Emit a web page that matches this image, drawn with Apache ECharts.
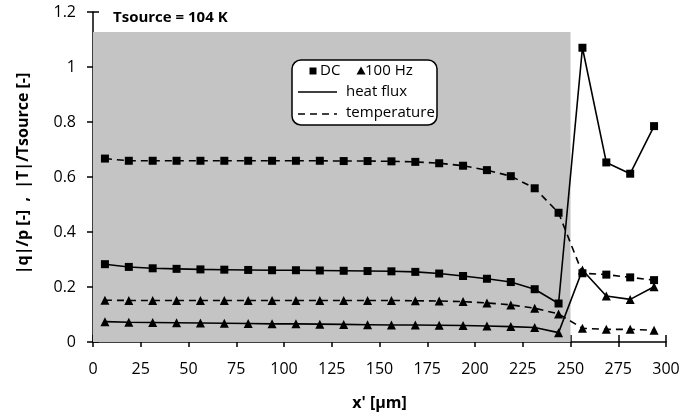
<!DOCTYPE html>
<html><head><meta charset="utf-8">
<script src="https://cdn.jsdelivr.net/npm/echarts@6/dist/echarts.min.js"></script>
<style>html,body{margin:0;padding:0;background:#fff}#c{width:698px;height:417px}</style>
</head><body><div id="c"></div>
<script>
const xPos = [6.25,18.75,31.25,43.75,56.25,68.75,81.25,93.75,106.25,118.75,131.25,143.75,156.25,168.75,181.25,193.75,206.25,218.75,231.25,243.75,256.25,268.75,281.25,293.75];
const dcTemp = [0.667,0.659,0.659,0.659,0.659,0.659,0.659,0.659,0.659,0.659,0.658,0.658,0.657,0.655,0.650,0.641,0.625,0.603,0.559,0.470,0.250,0.245,0.235,0.225];
const dcFlux = [0.283,0.273,0.268,0.266,0.264,0.263,0.262,0.261,0.261,0.260,0.259,0.258,0.257,0.255,0.249,0.240,0.230,0.218,0.192,0.140,1.070,0.653,0.612,0.785];
const hzTemp = [0.152,0.151,0.151,0.151,0.151,0.151,0.151,0.151,0.151,0.151,0.151,0.151,0.151,0.150,0.149,0.147,0.142,0.135,0.123,0.102,0.050,0.046,0.046,0.043];
const hzFlux = [0.074,0.072,0.071,0.070,0.069,0.068,0.067,0.066,0.066,0.065,0.064,0.063,0.062,0.062,0.061,0.060,0.058,0.056,0.053,0.034,0.262,0.167,0.155,0.201];
const shadeRegion = [[0, 0], [250, 1.127]];
const xTicks = {min: 0, max: 300, interval: 25};
const yTicks = {min: 0, max: 1.2, interval: 0.2};
const titleText = 'Tsource = 104 K';
const xTitle = "x' [µm]";
const yTitle = '|q|/p [-]  ,  |T|/Tsource [-]';

const FONT = '"Open Sans", sans-serif';
const pts = ys => xPos.map((x, i) => [x, ys[i]]);
const lineSeries = (ys, sym, size, dashed) => ({
  type: 'line', data: pts(ys), symbol: sym, symbolSize: size, showSymbol: true,
  lineStyle: {color: '#000', width: 1.6, type: dashed ? [7, 5] : 'solid'},
  itemStyle: {color: '#000'}, z: 5, animation: false
});

const chart = echarts.init(document.getElementById('c'), null, {renderer: 'canvas'});
chart.setOption({
  animation: false,
  grid: {left: 93, right: 32, top: 12, bottom: 75},
  xAxis: [{
    type: 'value', min: xTicks.min, max: xTicks.max, interval: xTicks.interval,
    axisLine: {lineStyle: {color: '#000', width: 1.5}},
    axisTick: {inside: false, length: 5, lineStyle: {color: '#000', width: 1.5}},
    axisLabel: {color: '#000', fontSize: 16, fontFamily: FONT, margin: 19},
    splitLine: {show: false},
    name: xTitle, nameLocation: 'middle', nameGap: 53,
    nameTextStyle: {color: '#000', fontSize: 16, fontWeight: 'bold', fontFamily: FONT}
  }, {
    type: 'value', min: xTicks.min, max: xTicks.max, interval: xTicks.interval, position: 'bottom',
    axisLine: {show: false}, axisTick: {inside: true, length: 7, lineStyle: {color: '#000', width: 1.5}},
    axisLabel: {show: false}, splitLine: {show: false}
  }],
  yAxis: [{
    type: 'value', min: yTicks.min, max: yTicks.max, interval: yTicks.interval,
    axisLine: {show: true, lineStyle: {color: '#000', width: 1.5}},
    axisTick: {show: true, inside: false, length: 6, lineStyle: {color: '#000', width: 1.5}},
    axisLabel: {color: '#000', fontSize: 16, fontFamily: FONT, margin: 17},
    splitLine: {show: false},
    name: yTitle, nameLocation: 'middle', nameGap: 62,
    nameTextStyle: {color: '#000', fontSize: 16, fontWeight: 'bold', fontFamily: FONT, padding: [0, 0, 0, 7]}
  }, {
    type: 'value', min: yTicks.min, max: yTicks.max, interval: yTicks.interval, position: 'left',
    axisLine: {show: false}, axisTick: {show: true, inside: true, length: 6, lineStyle: {color: '#000', width: 1.5}},
    axisLabel: {show: false}, splitLine: {show: false}
  }],
  series: [
    {type: 'line', data: [], z: 1, silent: true,
     markArea: {silent: true, itemStyle: {color: '#c4c4c4'},
       data: [[{coord: shadeRegion[0]}, {coord: shadeRegion[1]}]]}},
    lineSeries(dcTemp, 'rect', 8, true),
    lineSeries(dcFlux, 'rect', 8, false),
    lineSeries(hzTemp, 'triangle', 9, true),
    lineSeries(hzFlux, 'triangle', 9, false)
  ],
  graphic: [
    {type: 'text', x: 113, y: 18, z: 20,
     style: {text: titleText, fill: '#000', font: 'bold 15px ' + FONT, textVerticalAlign: 'middle'}},
    {type: 'rect', shape: {x: 292, y: 60, width: 145, height: 65, r: 9}, z: 20,
     style: {fill: '#fff', stroke: '#000', lineWidth: 1.5}},
    {type: 'rect', shape: {x: 309.5, y: 67.5, width: 7, height: 7}, z: 21, style: {fill: '#000'}},
    {type: 'text', x: 320, y: 71, z: 21, style: {text: 'DC', fill: '#000', font: '15px ' + FONT, textVerticalAlign: 'middle'}},
    {type: 'polygon', shape: {points: [[361, 66.5], [365.5, 74.5], [356.5, 74.5]]}, z: 21, style: {fill: '#000'}},
    {type: 'text', x: 365, y: 71, z: 21, style: {text: '100 Hz', fill: '#000', font: '15px ' + FONT, textVerticalAlign: 'middle'}},
    {type: 'line', shape: {x1: 298, y1: 92, x2: 337, y2: 92}, z: 21, style: {stroke: '#000', lineWidth: 1.5}},
    {type: 'text', x: 346, y: 92, z: 21, style: {text: 'heat flux', fill: '#000', font: '15px ' + FONT, textVerticalAlign: 'middle'}},
    {type: 'line', shape: {x1: 298, y1: 114, x2: 337, y2: 114}, z: 21, style: {stroke: '#000', lineWidth: 1.5, lineDash: [7, 5]}},
    {type: 'text', x: 346, y: 113, z: 21, style: {text: 'temperature', fill: '#000', font: '15px ' + FONT, textVerticalAlign: 'middle'}}
  ]
});
</script></body></html>
